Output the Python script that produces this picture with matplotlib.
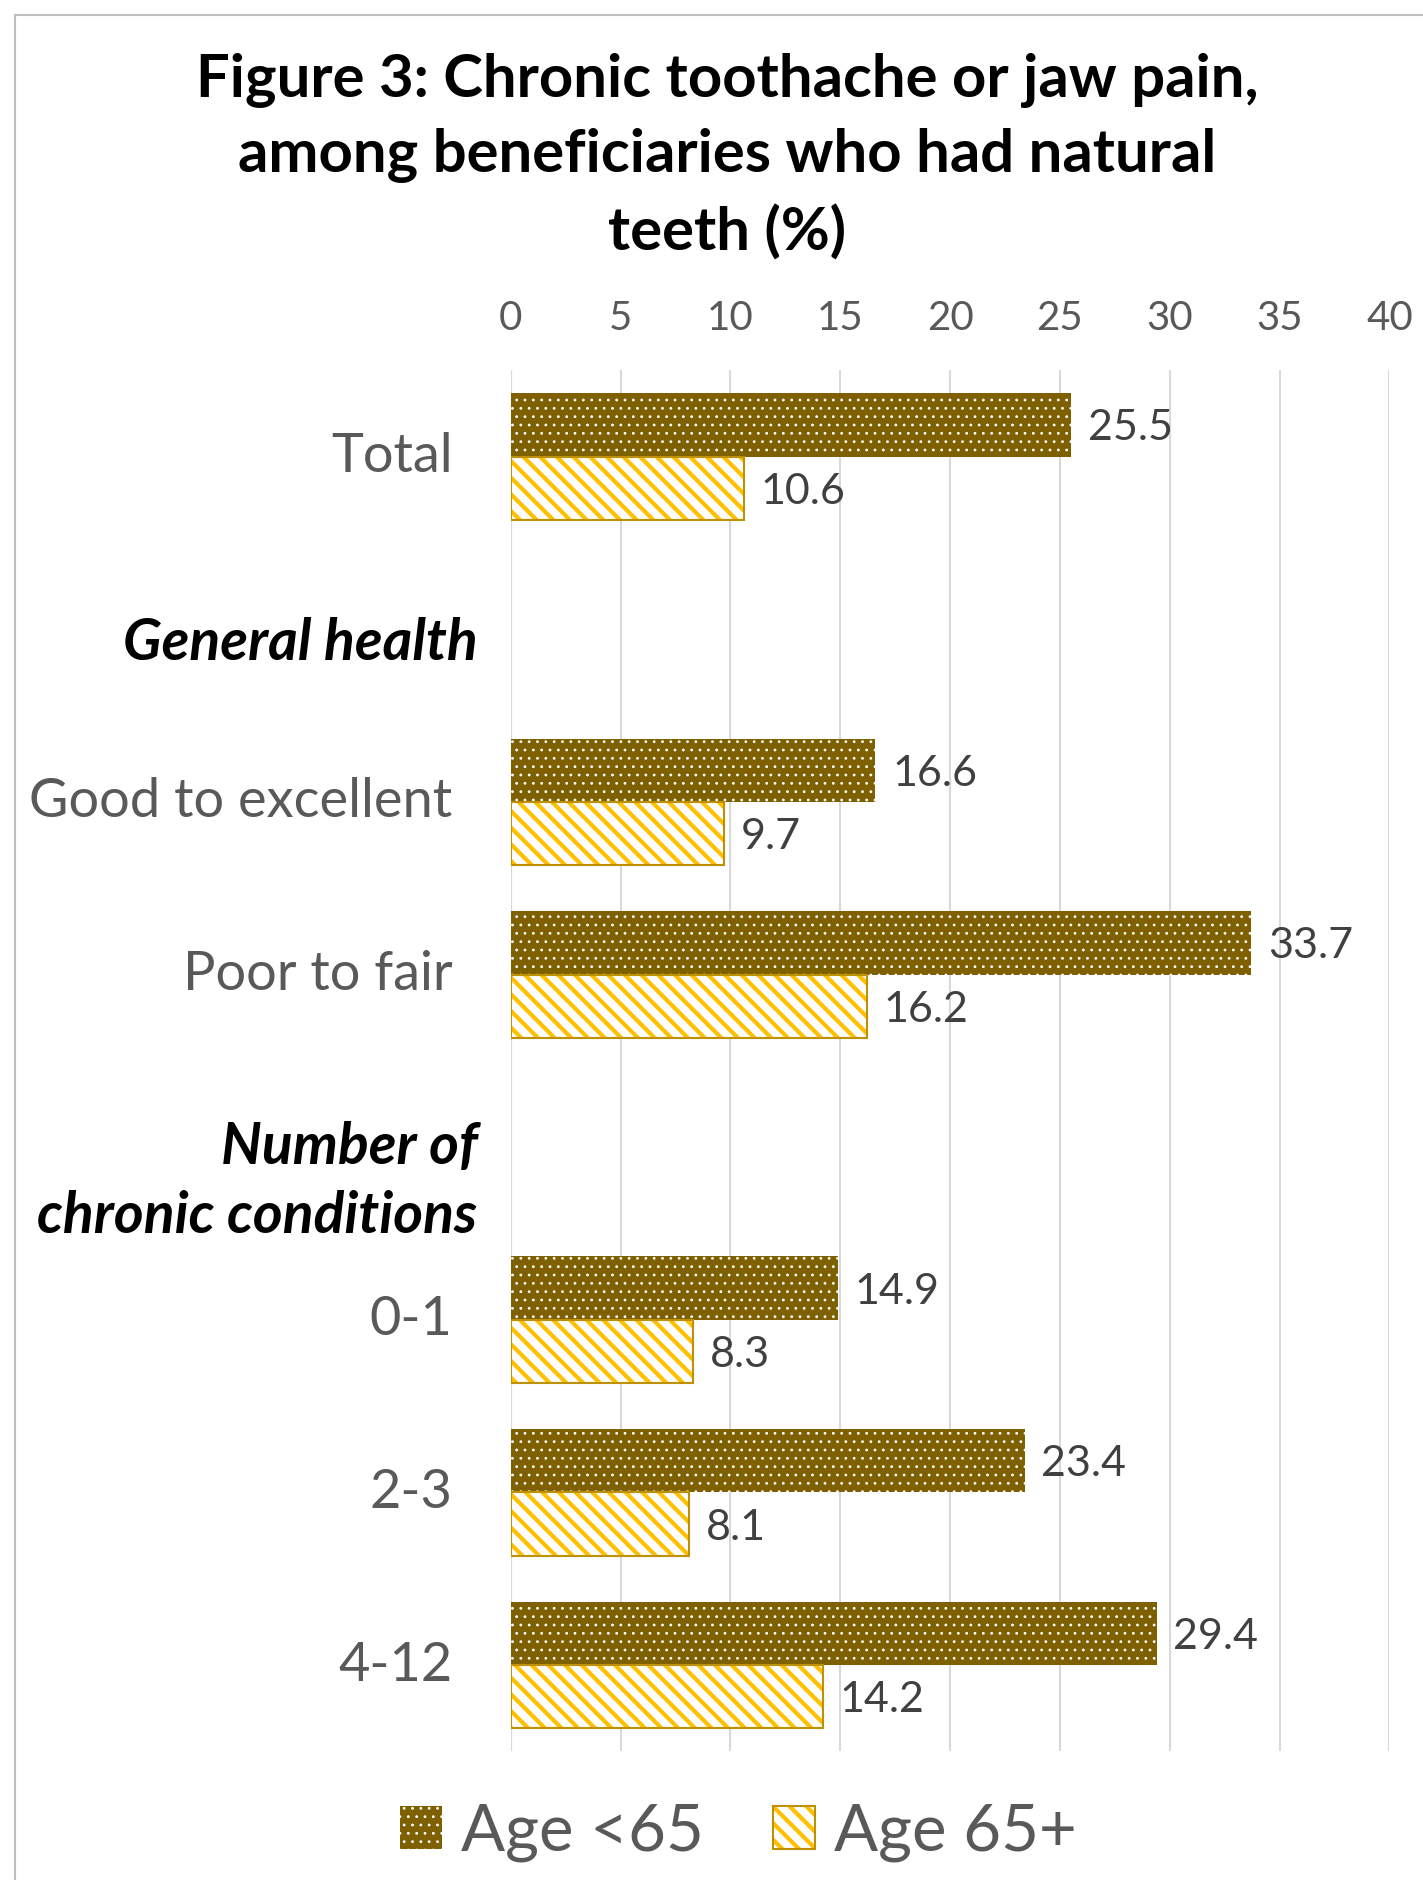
import numpy as np
import matplotlib
matplotlib.use('Agg')
import matplotlib.pyplot as plt
from matplotlib.patches import Patch, Rectangle
from matplotlib.lines import Line2D
from matplotlib.legend_handler import HandlerPatch

# 数据
categories = ['Total', 'General health', 'Good to excellent', 'Poor to fair',
              'Number of\nchronic conditions', '0-1', '2-3', '4-12']
is_header = [False, True, False, False, True, False, False, False]
under65 = [25.5, np.nan, 16.6, 33.7, np.nan, 14.9, 23.4, 29.4]
over65 = [10.6, np.nan, 9.7, 16.2, np.nan, 8.3, 8.1, 14.2]
series_names = ['Age <65', 'Age 65+']
xticks = [0, 5, 10, 15, 20, 25, 30, 35, 40]

FONT = ['Lato', 'DejaVu Sans']
plt.rcParams['font.family'] = FONT

dark = '#7F6000'
stripe = '#FFC000'
edge_light = '#BF9000'
grey = '#595959'

fig = plt.figure(figsize=(14.23, 18.80), dpi=100)
ax = fig.add_axes([0.359, 0.0684, 0.6174, 0.7346])

y = np.arange(len(categories))
h = 0.367

# 深色点状条
plt.rcParams['hatch.linewidth'] = 0.8
b1 = ax.barh(y - h / 2, under65, height=h, color=dark, edgecolor='white',
             linewidth=0, hatch='..', zorder=3)
h_dark = Patch(facecolor=dark, edgecolor='white', hatch='..', linewidth=0)

# 浅色斜线条
plt.rcParams['hatch.linewidth'] = 3.0
b2 = ax.barh(y + h / 2, over65, height=h, color='white', edgecolor=stripe,
             linewidth=0, hatch='\\\\', zorder=3)
ax.barh(y + h / 2, over65, height=h, fill=False, edgecolor=edge_light,
        linewidth=1.5, zorder=4)
h_light = (Patch(facecolor='white', edgecolor=stripe, hatch='\\\\', linewidth=0),
           Patch(fill=False, edgecolor=edge_light, linewidth=1.5))

for i in range(len(categories)):
    if not np.isnan(under65[i]):
        ax.annotate('%.1f' % under65[i], (under65[i], y[i] - h / 2),
                    xytext=(12, 0), textcoords='offset points', va='center_baseline',
                    ha='left', fontsize=31, color='#404040')
        ax.annotate('%.1f' % over65[i], (over65[i], y[i] + h / 2),
                    xytext=(12, 0), textcoords='offset points', va='center_baseline',
                    ha='left', fontsize=31, color='#404040')

ax.set_xlim(0, 40)
ax.set_ylim(len(categories) - 0.5, -0.5)
ax.set_xticks(xticks)
ax.xaxis.tick_top()
ax.tick_params(axis='x', length=0, pad=24, labelsize=29, labelcolor=grey)
ax.set_yticks([])
for s in ax.spines.values():
    s.set_visible(False)
ax.grid(axis='x', color='#D9D9D9', linewidth=1.5, zorder=0)
ax.axvline(0, color='#D9D9D9', linewidth=1.5, zorder=1)

# 类别标签
for i, lab in enumerate(categories):
    if is_header[i]:
        off = 0.08 if '\n' not in lab else 0.2
        ax.annotate(lab, (0, y[i] + off), xycoords=('axes fraction', 'data'),
                    xytext=(-24, 0), textcoords='offset points', ha='right',
                    va='center', fontsize=41, fontweight='bold',
                    fontstyle='italic', color='black', linespacing=1.38)
    else:
        ax.annotate(lab, (0, y[i]), xycoords=('axes fraction', 'data'),
                    xytext=(-42, 0), textcoords='offset points', ha='right',
                    va='center', fontsize=39, color=grey)

fig.text(0.511, 1 - 157 / 1880, 'Figure 3: Chronic toothache or jaw pain,\namong beneficiaries who had natural\nteeth (%)',
         ha='center', va='center', fontsize=43, fontweight='bold', linespacing=1.46)


# 图例里的点状方块用细线
def dot_patch(legend, orig_handle, xdescent, ydescent, width, height, fontsize):
    with plt.rc_context({'hatch.linewidth': 0.8}):
        return Rectangle((-xdescent, -ydescent), width, height)


fig.legend([h_dark, h_light], series_names, loc='center', bbox_to_anchor=(0.519, 1 - 1832 / 1880),
           ncol=2, frameon=False, fontsize=47, labelcolor=grey,
           handlelength=0.64, handleheight=0.64, handletextpad=0.3,
           columnspacing=1.05, handler_map={h_dark: HandlerPatch(patch_func=dot_patch)})

# 外框
fig.add_artist(Line2D([15 / 1423, 1], [1 - 15 / 1880] * 2, color='#BFBFBF', linewidth=1.5))
fig.add_artist(Line2D([15 / 1423] * 2, [0, 1 - 15 / 1880], color='#BFBFBF', linewidth=1.5))

fig.savefig('out.png', dpi=100)
